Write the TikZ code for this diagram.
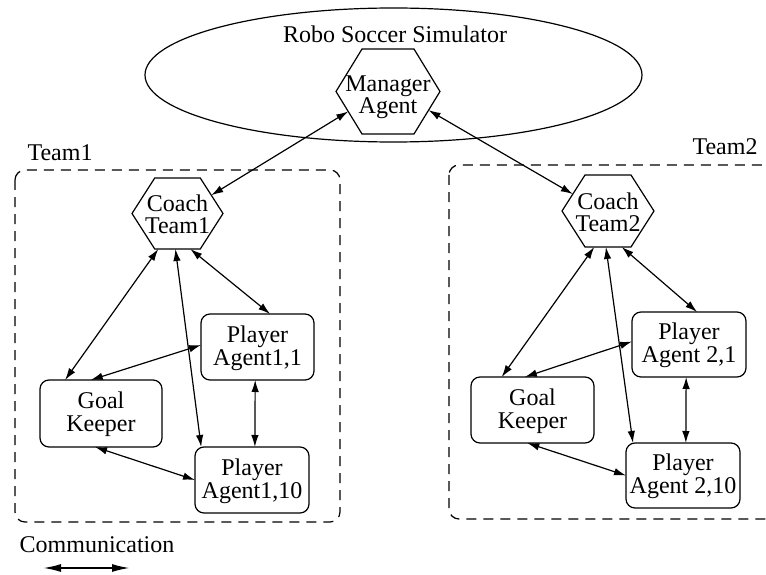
\documentclass[tikz,border=0pt]{standalone}
\usepackage{fontspec}
\usepackage{graphicx}
\setmainfont{Liberation Serif}
\usetikzlibrary{shapes.geometric,arrows.meta}
% two centred lines, squeezed horizontally by #1, lowered by #2 without changing the box size
\newcommand{\hexlines}[4]{\raisebox{-#2}[\height][\depth]{\scalebox{#1}[1]{\begin{tabular}{@{}c@{}}#3\\#4\end{tabular}}}}
\newcommand{\boxlines}[3]{\raisebox{-#1}[\height][\depth]{\begin{tabular}{@{}c@{}}#2\\#3\end{tabular}}}
\begin{document}
\begin{tikzpicture}[x=1pt,y=-1pt,
  every node/.style={font=\fontsize{24}{23}\selectfont, align=center, inner sep=0pt, outer sep=0pt},
  hexshape/.style={regular polygon, regular polygon sides=6, draw, line width=1.2pt,
    transform shape, inner sep=-16pt, font=\fontsize{24}{20}\selectfont},
  agentbox/.style={draw, rounded corners=9pt, minimum width=114pt, minimum height=66pt, line width=1.2pt},
  comm/.style={{Latex[length=12pt,width=7.5pt]}-{Latex[length=12pt,width=7.5pt]}, line width=1.2pt},
  teambox/.style={draw, dash pattern=on 10pt off 7pt, rounded corners=10pt, line width=1.2pt},
  lbl/.style={font=\fontsize{24}{24}\selectfont}
]
\useasboundingbox (0,0) rectangle (766,575);
\clip (0,0) rectangle (766,575);

% simulator
\draw[line width=1.2pt] (393.5,75) ellipse [x radius=248.5pt, y radius=67pt];
\node[lbl] (simlbl) at (395,34.5) {Robo Soccer Simulator};
\node[hexshape, minimum size=98.1pt, xscale=1.06] (mgr) at (388,91.5) {\hexlines{0.943}{6pt}{Manager}{Agent}};

% team boxes
\draw[teambox] (15,170) rectangle (340,522);
\draw[teambox] (449,165) rectangle (790,519);
\node[lbl] (t1lbl) at (60,152.5) {Team1};
\node[lbl] (t2lbl) at (725,146.5) {Team2};

% team 1
\node[hexshape, minimum size=82pt, xscale=1.11] (c1) at (177.5,213.5) {\hexlines{0.901}{4pt}{Coach}{Team1}};
\node[agentbox, minimum width=113pt] (p11) at (257.5,347) {\boxlines{2pt}{Player}{Agent1,1}};
\node[agentbox, minimum width=122pt, minimum height=67pt] (gk1) at (101,413.5) {\boxlines{2pt}{Goal}{Keeper}};
\node[agentbox] (p110) at (252,480) {\boxlines{2pt}{Player}{Agent1,10}};

% team 2
\node[hexshape, minimum size=83.1pt, xscale=1.107] (c2) at (608,211) {\hexlines{0.903}{4pt}{Coach}{Team2}};
\node[agentbox, minimum height=65pt] (p21) at (689,344.5) {\boxlines{2pt}{Player}{Agent 2,1}};
\node[agentbox, minimum width=123pt] (gk2) at (532.5,410) {\boxlines{2pt}{Goal}{Keeper}};
\node[agentbox, minimum height=65pt] (p210) at (683,475.5) {\boxlines{2pt}{Player}{Agent 2,10}};

% connectors
\draw[comm] (mgr.-152) -- (c1.31);
\draw[comm] (mgr.-26) -- (c2.152);

\draw[comm] (c1.-116) -- (gk1.137);
\draw[comm] (c1.-72) -- (p11.69);
\draw[comm] (c1.-93) -- (p110.147);
\draw[comm] (p11.178) -- (gk1.107);
\draw[comm] (p11.-94) -- (p110.85);
\draw[comm] (gk1.-100) -- (p110.180);

\draw[comm] (c2.-109) -- (gk2.133);
\draw[comm] (c2.-71) -- (p21.76);
\draw[comm] (c2.-93) -- (p210.147);
\draw[comm] (p21.177) -- (gk2.103);
\draw[comm] (p21.-95) -- (p210.85);
\draw[comm] (gk2.-99) -- (p210.180);

% legend
\node[lbl] (legend) at (97,545) {Communication};
\coordinate (la) at (43,568);
\coordinate (lb) at (130,568);
\draw[{Latex[length=18pt,width=8pt]}-{Latex[length=18pt,width=8pt]}, line width=1.9pt] (la) -- (lb);
\end{tikzpicture}
\end{document}
